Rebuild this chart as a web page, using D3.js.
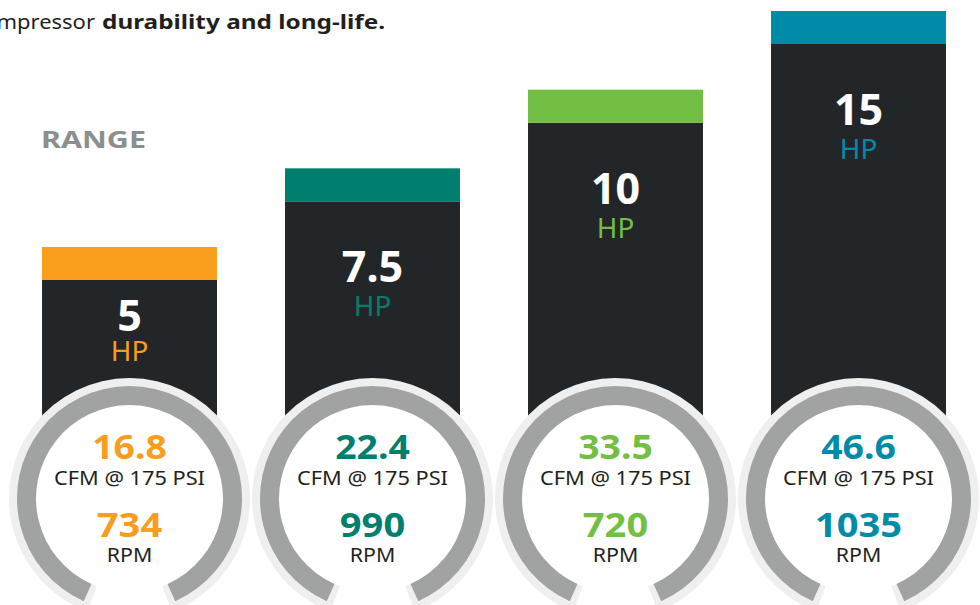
<!DOCTYPE html>
<html>
<head>
<meta charset="utf-8">
<script src="https://cdn.jsdelivr.net/npm/d3@7"></script>
<style>
  html, body { margin: 0; padding: 0; background: #ffffff; }
  svg { display: block; }
  text { font-family: "Noto Sans", "Open Sans", sans-serif; }
</style>
</head>
<body>
<svg id="chart" width="980" height="605"></svg>
<script>
// ---- data ----
const hpValues   = ["5", "7.5", "10", "15"];
const hpColors   = ["#f99d1c", "#007f6e", "#72bf44", "#008ca8"];
const cfmValues  = [16.8, 22.4, 33.5, 46.6];
const rpmValues  = [734, 990, 720, 1035];
const cfmLabel   = "CFM @ 175 PSI";
const rpmLabel   = "RPM";
const unitLabel  = "HP";
const titleLight = "compressor";
const titleBold  = "durability and long-life.";
const rangeLabel = "RANGE";

// ---- layout ----
const svg = d3.select("#chart");
const dark = "#232629";
const ringGray = "#a1a3a2";
const textDark = "#231f20";

const x = d3.scaleBand().domain(hpValues).range([8, 980]).paddingInner(0.28).paddingOuter(0.14);
const topY = d3.scalePoint().domain(hpValues).range([247, 11]);

const capH = 33;
const cy = 498.5;           // gauge centre
const rOut = 112.5, rIn = 93.5;
const deg = Math.PI / 180;

// horizontal stretch helper (reference face is wider than installed fonts)
function stretch(sel, factor) {
  sel.each(function () {
    const w = this.getComputedTextLength();
    d3.select(this).attr("textLength", w * factor).attr("lengthAdjust", "spacingAndGlyphs");
  });
}

const data = hpValues.map((hp, i) => ({hp, color: hpColors[i], cfm: cfmValues[i], rpm: rpmValues[i]}));

// header text
const headFont = "'DejaVu Sans', 'Noto Sans', sans-serif";
const probe = svg.append("text").attr("font-family", headFont).attr("font-size", 19).text("pressor");
const probeW = probe.node().getComputedTextLength();
probe.remove();
const lightT = svg.append("text").attr("y", 29).attr("font-family", headFont)
  .attr("font-size", 19).attr("fill", textDark).text(titleLight);
const fullW = lightT.node().getComputedTextLength() * (78 / probeW);
lightT.attr("x", 95 - fullW).attr("textLength", fullW).attr("lengthAdjust", "spacingAndGlyphs");
svg.append("text").attr("x", 102).attr("y", 29).attr("font-family", headFont)
  .attr("font-size", 19).attr("font-weight", 700).attr("fill", textDark)
  .attr("textLength", 283).attr("lengthAdjust", "spacingAndGlyphs").text(titleBold);

svg.append("text").attr("x", 41).attr("y", 148)
  .attr("font-size", 24).attr("font-weight", 700).attr("fill", "#8b8f8e")
  .attr("textLength", 105).attr("lengthAdjust", "spacingAndGlyphs").text(rangeLabel);

const defs = svg.append("defs");
data.forEach((d, i) => {
  defs.append("clipPath").attr("id", "barclip" + i)
    .append("rect").attr("x", x(d.hp)).attr("y", topY(d.hp) + capH)
    .attr("width", x.bandwidth()).attr("height", cy - topY(d.hp) - capH);
});

const g = svg.selectAll("g.unit").data(data).join("g").attr("class", "unit");

// bars
g.append("rect").attr("x", d => x(d.hp)).attr("y", d => topY(d.hp) + capH)
  .attr("width", x.bandwidth()).attr("height", d => cy - topY(d.hp) - capH).attr("fill", dark);
g.append("rect").attr("x", d => x(d.hp)).attr("y", d => topY(d.hp))
  .attr("width", x.bandwidth()).attr("height", capH).attr("fill", d => d.color);

// bar labels
const numY = d => Math.min(topY(d.hp) + capH + 81, cy - 168);
g.append("text").attr("x", d => x(d.hp) + x.bandwidth() / 2).attr("y", numY)
  .attr("text-anchor", "middle").attr("font-size", 43).attr("font-weight", 700)
  .attr("fill", "#ffffff").text(d => d.hp);
g.append("text").attr("x", d => x(d.hp) + x.bandwidth() / 2)
  .attr("y", d => numY(d) + (numY(d) < topY(d.hp) + capH + 81 ? 30 : 34))
  .attr("text-anchor", "middle").attr("font-size", 26.5).attr("font-weight", 400)
  .attr("fill", d => d.color).text(unitLabel).call(stretch, 1.05);

// gauges
const haloArc = d3.arc().innerRadius(rIn - 3).outerRadius(rOut + 8)
  .startAngle(-159.5 * deg).endAngle(159.5 * deg).cornerRadius(4);
const ringArc = d3.arc().innerRadius(rIn).outerRadius(rOut)
  .startAngle(-156 * deg).endAngle(156 * deg);

const cxOf = d => x(d.hp) + x.bandwidth() / 2;
g.append("path").attr("d", haloArc()).attr("transform", d => `translate(${cxOf(d)},${cy})`)
  .attr("fill", "#efefef");
g.append("path").attr("d", haloArc()).attr("transform", d => `translate(${cxOf(d)},${cy})`)
  .attr("fill", "#c9cac9").attr("clip-path", (d, i) => `url(#barclip${i})`);
const gauge = g.append("g").attr("transform", d => `translate(${cxOf(d)},${cy})`);
gauge.append("circle").attr("r", rIn).attr("fill", "#ffffff");
gauge.append("path").attr("d", ringArc()).attr("fill", ringGray);

gauge.append("text").attr("y", -39.5).attr("text-anchor", "middle")
  .attr("font-size", 34).attr("font-weight", 700).attr("fill", d => d.color)
  .text(d => d3.format(".1f")(d.cfm)).call(stretch, 1.1);
gauge.append("text").attr("y", -13.5).attr("text-anchor", "middle")
  .attr("font-size", 20.5).attr("fill", textDark).text(cfmLabel).call(stretch, 1.06);
gauge.append("text").attr("y", 38.5).attr("text-anchor", "middle")
  .attr("font-size", 34).attr("font-weight", 700).attr("fill", d => d.color)
  .text(d => d.rpm).call(stretch, 1.12);
gauge.append("text").attr("y", 63.5).attr("text-anchor", "middle")
  .attr("font-size", 20.5).attr("fill", textDark).text(rpmLabel).call(stretch, 1.04);
</script>
</body>
</html>
